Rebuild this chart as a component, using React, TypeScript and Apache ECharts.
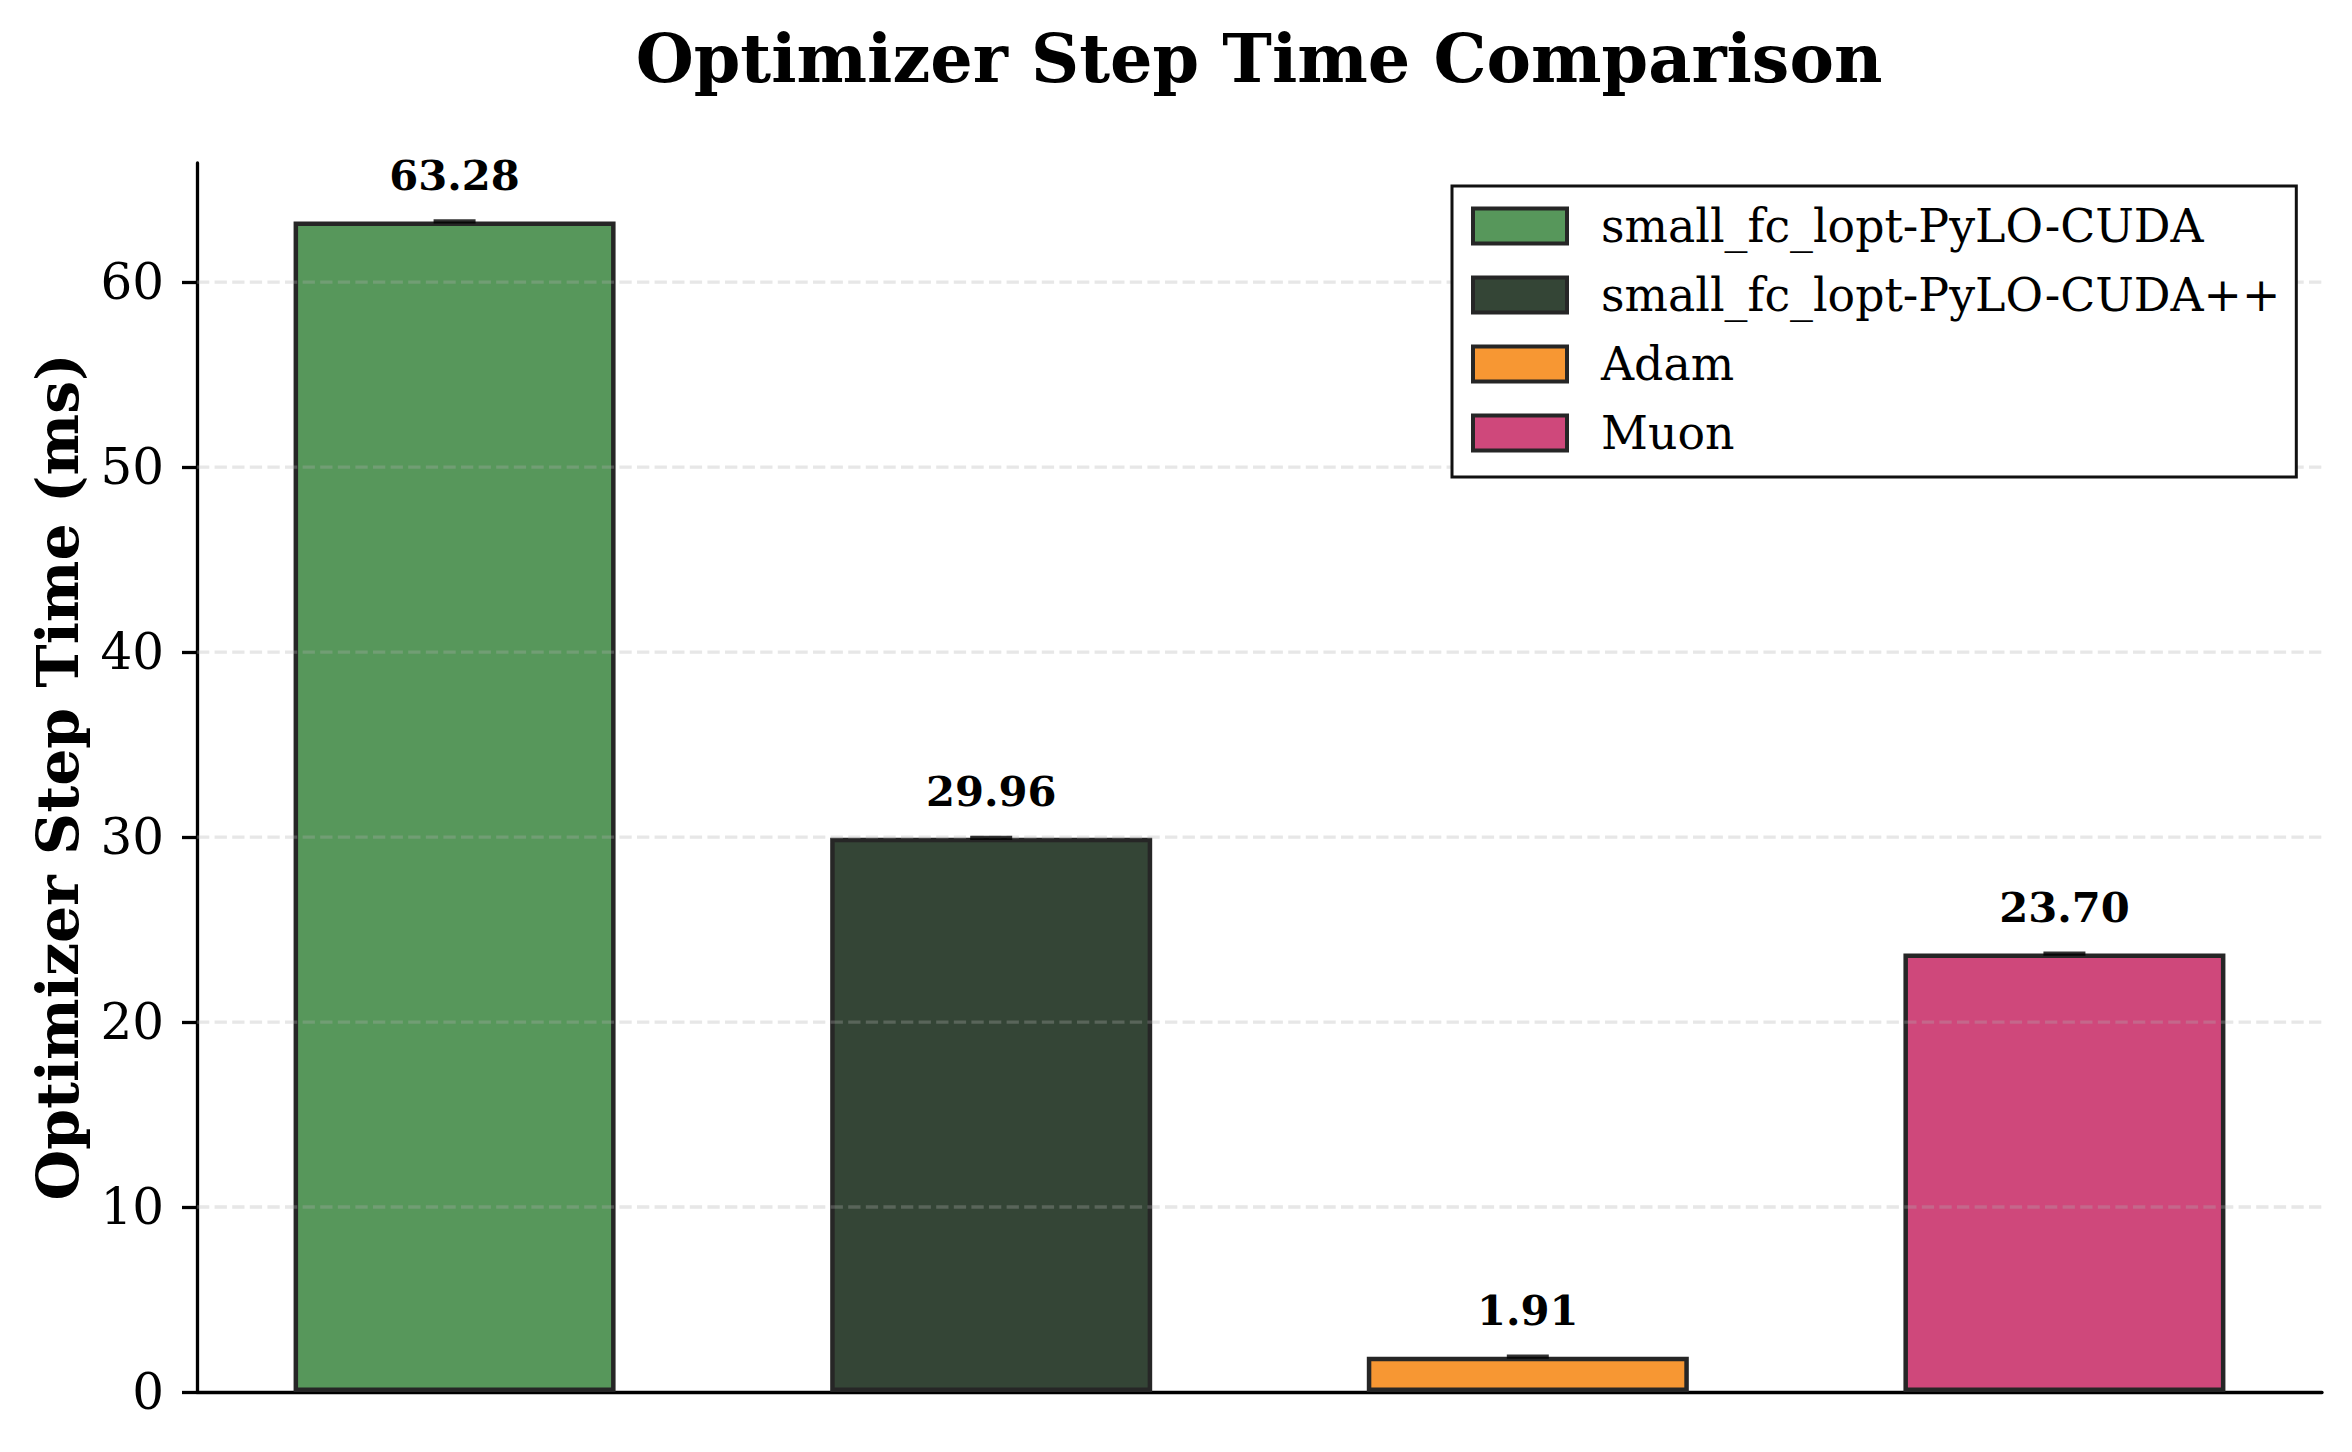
import React, { useEffect, useRef } from "react";
import * as echarts from "echarts";

const optimizers = [
  "small_fc_lopt-PyLO-CUDA",
  "small_fc_lopt-PyLO-CUDA++",
  "Adam",
  "Muon",
];
const stepTimes = [63.28, 29.96, 1.91, 23.7];
const barColors = ["#57975b", "#344536", "#f79733", "#cf487b"];
const yTicks = [0, 10, 20, 30, 40, 50, 60];
const yMax = 66.44;
const xMin = -0.48;
const xMax = 3.48;

const FONT = "'DejaVu Serif', serif";

export default function App() {
  const ref = useRef<HTMLDivElement>(null);

  useEffect(() => {
    if (!ref.current) return;
    const chart = echarts.init(ref.current, undefined, { renderer: "svg" });

    const barSeries = optimizers.map((name, i) => ({
      name,
      type: "bar",
      data: [[i, stepTimes[i]]],
      barWidth: 322,
      barGap: "-100%",
      z: 2,
      itemStyle: {
        color: barColors[i],
        borderColor: "#262626",
        borderWidth: 4.5,
      },
      label: {
        show: true,
        position: "top",
        distance: 25,
        formatter: (p: any) => Number(p.value[1]).toFixed(2),
        fontFamily: FONT,
        fontWeight: "bold",
        fontSize: 41.7,
        lineHeight: 42,
        color: "#000",
      },
    }));

    const gridSeries = yTicks
      .filter((v) => v > 0)
      .map((v) => ({
        name: "grid" + v,
        type: "line",
        silent: true,
        symbol: "none",
        z: 3,
        lineStyle: {
          type: [12.3, 5.3],
          width: 3.3,
          color: "rgba(176,176,176,0.3)",
        },
        data: [
          [xMin, v],
          [xMax, v],
        ],
      }));

    const capSeries = {
      name: "errcap",
      type: "scatter",
      symbol: "rect",
      symbolSize: [42, 4.2],
      z: 4,
      silent: true,
      itemStyle: { color: "#000" },
      data: stepTimes.map((v, i) => [i, v]),
    };

    chart.setOption({
      animation: false,
      grid: { left: 197, top: 163, right: 30, bottom: 60, containLabel: false },
      xAxis: {
        type: "value",
        min: xMin,
        max: xMax,
        axisLine: { show: true, onZero: false, lineStyle: { color: "#000", width: 3.3 } },
        axisTick: { show: false },
        axisLabel: { show: false },
        splitLine: { show: false },
      },
      yAxis: {
        type: "value",
        min: 0,
        max: yMax,
        interval: 10,
        axisLine: { show: true, onZero: false, lineStyle: { color: "#000", width: 3.3 } },
        axisTick: {
          show: true,
          length: 15,
          customValues: yTicks,
          lineStyle: { color: "#000", width: 3.3 },
        },
        axisLabel: {
          customValues: yTicks,
          margin: 33,
          fontFamily: FONT,
          fontSize: 50,
          color: "#000",
        },
        splitLine: { show: false },
      },
      legend: {
        orient: "vertical",
        left: 1452,
        top: 186,
        padding: [17, 16, 21, 19],
        itemWidth: 94,
        itemHeight: 35,
        itemGap: 23,
        icon: "rect",
        borderColor: "#111",
        borderWidth: 3,
        borderRadius: 0,
        backgroundColor: "#fff",
        data: optimizers,
        itemStyle: { borderColor: "#262626", borderWidth: 4 },
        textStyle: {
          fontFamily: FONT,
          fontSize: 45.8,
          color: "#000",
          padding: [0, 0, 0, 29],
        },
      },
      graphic: [
        {
          type: "text",
          x: 1259,
          y: 58,
          style: {
            text: "Optimizer Step Time Comparison",
            font: `bold 66.7px ${FONT}`,
            fill: "#000",
            textAlign: "center",
            textVerticalAlign: "middle",
          },
        },
        {
          type: "text",
          x: 57,
          y: 777,
          rotation: Math.PI / 2,
          style: {
            text: "Optimizer Step Time (ms)",
            font: `bold 58.3px ${FONT}`,
            fill: "#000",
            textAlign: "center",
            textVerticalAlign: "middle",
          },
        },
      ],
      series: [...barSeries, ...gridSeries, capSeries],
    });

    return () => chart.dispose();
  }, []);

  return (
    <div
      ref={ref}
      style={{ position: "fixed", left: 0, top: 0, width: 2352, height: 1452, background: "#fff" }}
    />
  );
}
